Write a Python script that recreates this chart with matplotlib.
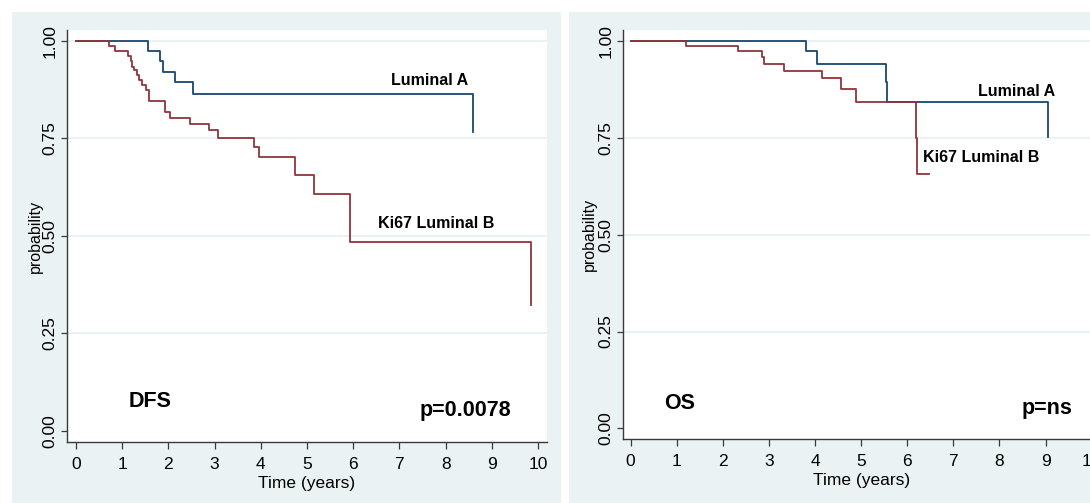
import matplotlib
matplotlib.use("Agg")
import matplotlib.pyplot as plt
from matplotlib import font_manager
from matplotlib.patches import Rectangle

# DFS curves (time in years, survival probability)
dfs_a_time = [0, 1.55, 1.82, 1.89, 2.15, 2.53, 8.60]
dfs_a_surv = [1.0, 0.974, 0.947, 0.920, 0.893, 0.863, 0.765]
dfs_b_time = [0, 0.71, 0.85, 1.12, 1.18, 1.22, 1.26, 1.32, 1.36, 1.42, 1.51, 1.59,
              1.93, 2.04, 2.46, 2.87, 3.08, 3.86, 3.97, 4.73, 5.15, 5.93, 9.85]
dfs_b_surv = [1.0, 0.986, 0.974, 0.962, 0.947, 0.933, 0.925, 0.912, 0.899, 0.886, 0.874, 0.846,
              0.818, 0.803, 0.787, 0.770, 0.750, 0.727, 0.702, 0.656, 0.606, 0.483, 0.322]

# OS curves
os_a_time = [0, 3.80, 4.05, 5.53, 5.57, 9.06]
os_a_surv = [1.0, 0.974, 0.941, 0.893, 0.841, 0.751]
os_b_time = [0, 1.20, 2.34, 2.85, 2.90, 3.32, 4.15, 4.56, 4.88, 6.18, 6.21, 6.48]
os_b_surv = [1.0, 0.987, 0.974, 0.957, 0.941, 0.923, 0.903, 0.875, 0.841, 0.750, 0.655, 0.655]

x_ticks = list(range(0, 11))
y_ticks = [0.0, 0.25, 0.5, 0.75, 1.0]
y_tick_labels = ["0.00", "0.25", "0.50", "0.75", "1.00"]
group_names = ["Luminal A", "Ki67 Luminal B"]

BG = "#eaf2f3"
NAVY = "#1a476f"
MAROON = "#90353b"
AXC = "#3a3a3a"

installed = {f.name for f in font_manager.fontManager.ttflist}
NARROW = [f for f in ["Liberation Sans Narrow", "DejaVu Sans Condensed", "Liberation Sans"] if f in installed]
BOLD = ["Liberation Sans", "DejaVu Sans"]

W, H = 1090, 503
fig = plt.figure(figsize=(W / 100, H / 100), dpi=100)
fig.patch.set_facecolor("white")


def px_rect(x0, y0, x1, y1):
    return [x0 / W, 1 - y1 / H, (x1 - x0) / W, (y1 - y0) / H]


# panel backgrounds
for x0, x1 in [(12, 561), (569, 1095)]:
    r = px_rect(x0, 12, x1, 503)
    fig.add_artist(Rectangle((r[0], r[1]), r[2], r[3], transform=fig.transFigure,
                             facecolor=BG, edgecolor="none", zorder=0))


def setup(ax, xlim, ylim, ylab_x):
    ax.set_facecolor("white")
    ax.set_xlim(*xlim)
    ax.set_ylim(*ylim)
    for s in ["top", "right"]:
        ax.spines[s].set_visible(False)
    for s in ["left", "bottom"]:
        ax.spines[s].set_color(AXC)
        ax.spines[s].set_linewidth(1.0)
    ax.set_xticks(x_ticks)
    ax.set_xticklabels([str(v) for v in x_ticks], family=NARROW, fontsize=12.5)
    ax.set_yticks(y_ticks)
    ax.set_yticklabels(y_tick_labels, family=NARROW, fontsize=12.5, rotation=90, va="center")
    ax.tick_params(axis="x", length=5, width=0.9, color=AXC, pad=5.5)
    ax.tick_params(axis="y", length=4, width=0.9, color=AXC, pad=3)
    for v in y_ticks[1:]:
        ax.axhline(v, color=BG, lw=1.4, zorder=0.5)
    ax.set_xlabel("Time (years)", family=NARROW, fontsize=12.5, labelpad=3)
    ax.set_ylabel("probability", family=BOLD, fontsize=11.5, va="center")
    ax.yaxis.set_label_coords(ylab_x, 0.5)


# DFS panel
ax1 = fig.add_axes(px_rect(67, 30, 546.7, 442))
setup(ax1, (-0.195, 10.188), (-0.029, 1.0274), -0.0667)
ax1.step(dfs_a_time, dfs_a_surv, where="post", color=NAVY, lw=1.3)
ax1.step(dfs_b_time, dfs_b_surv, where="post", color=MAROON, lw=1.3)
ax1.text(7.66, 0.897, group_names[0], ha="center", va="center", family=BOLD, fontsize=11.5, fontweight="bold")
ax1.text(7.80, 0.532, group_names[1], ha="center", va="center", family=BOLD, fontsize=11.5, fontweight="bold")
ax1.text(1.60, 0.074, "DFS", ha="center", va="center", family=BOLD, fontsize=15.5, fontweight="bold")
ax1.text(8.43, 0.053, "p=0.0078", ha="center", va="center", family=BOLD, fontsize=15.5, fontweight="bold")

# OS panel
ax2 = fig.add_axes(px_rect(623, 30, 1100, 439.3))
setup(ax2, (-0.163, 10.18), (-0.028, 1.0276), -0.071)
ax2.step(os_a_time, os_a_surv, where="post", color=NAVY, lw=1.3)
ax2.step(os_b_time, os_b_surv, where="post", color=MAROON, lw=1.3)
ax2.text(8.38, 0.870, group_names[0], ha="center", va="center", family=BOLD, fontsize=11.5, fontweight="bold")
ax2.text(7.61, 0.698, group_names[1], ha="center", va="center", family=BOLD, fontsize=11.5, fontweight="bold")
ax2.text(1.065, 0.065, "OS", ha="center", va="center", family=BOLD, fontsize=15.5, fontweight="bold")
ax2.text(9.04, 0.0516, "p=ns", ha="center", va="center", family=BOLD, fontsize=15.5, fontweight="bold")

fig.savefig("out.png", dpi=100, facecolor="white")
